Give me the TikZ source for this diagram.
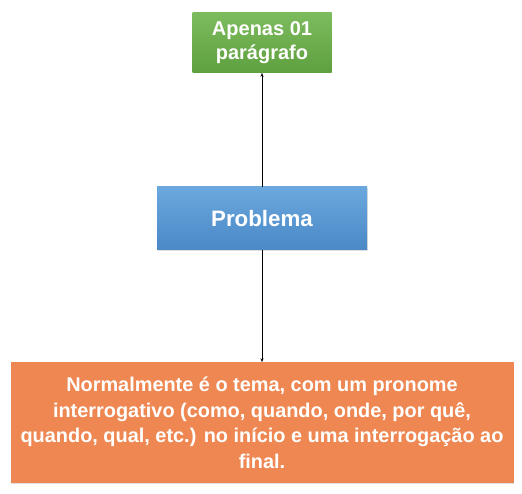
\documentclass[tikz,border=0pt]{standalone}
\usepackage{fontspec}
\setmainfont{Liberation Sans}
\usetikzlibrary{positioning,shadows,arrows.meta}
\definecolor{greentop}{HTML}{7DBC5E}
\definecolor{greenbot}{HTML}{5E9F3F}
\definecolor{bluetop}{HTML}{6BA8DD}
\definecolor{bluebot}{HTML}{4A88C7}
\definecolor{orangefill}{HTML}{EE8751}
\begin{document}
\begin{tikzpicture}[x=1pt, y=1pt]
    \tikzset{block/.style={rectangle, text=white, font=\bfseries, align=center, inner sep=0pt, drop shadow={opacity=0.25, shadow xshift=0.6pt, shadow yshift=-0.8pt}}};
    \tikzset{link/.style={-{Stealth[length=4pt, width=3pt]}, line width=0.8pt}};
    \useasboundingbox (0,0) rectangle (522,494);
    \node[block, top color=bluetop, bottom color=bluebot, minimum width=210pt, minimum height=63pt, font=\bfseries\fontsize{22.3}{27}\selectfont] (problema) at (262,275.5) {Problema};
    \node[block, top color=greentop, bottom color=greenbot, minimum width=139pt, minimum height=60pt, font=\bfseries\fontsize{20}{24.7}\selectfont, above=114pt of problema] (paragrafo) {Apenas 01\\parágrafo};
    \node[block, fill=orangefill, minimum width=503pt, minimum height=121pt, font=\bfseries\fontsize{19.9}{25.5}\selectfont, below=112pt of problema] (tema) {Normalmente é o tema, com um pronome\\interrogativo (como, quando, onde, por quê,\\quando, qual, etc.) no início e uma interrogação ao\\final.};
    \draw[link] (problema) -- (paragrafo);
    \draw[link] (problema) -- (tema);
\end{tikzpicture}
\end{document}
